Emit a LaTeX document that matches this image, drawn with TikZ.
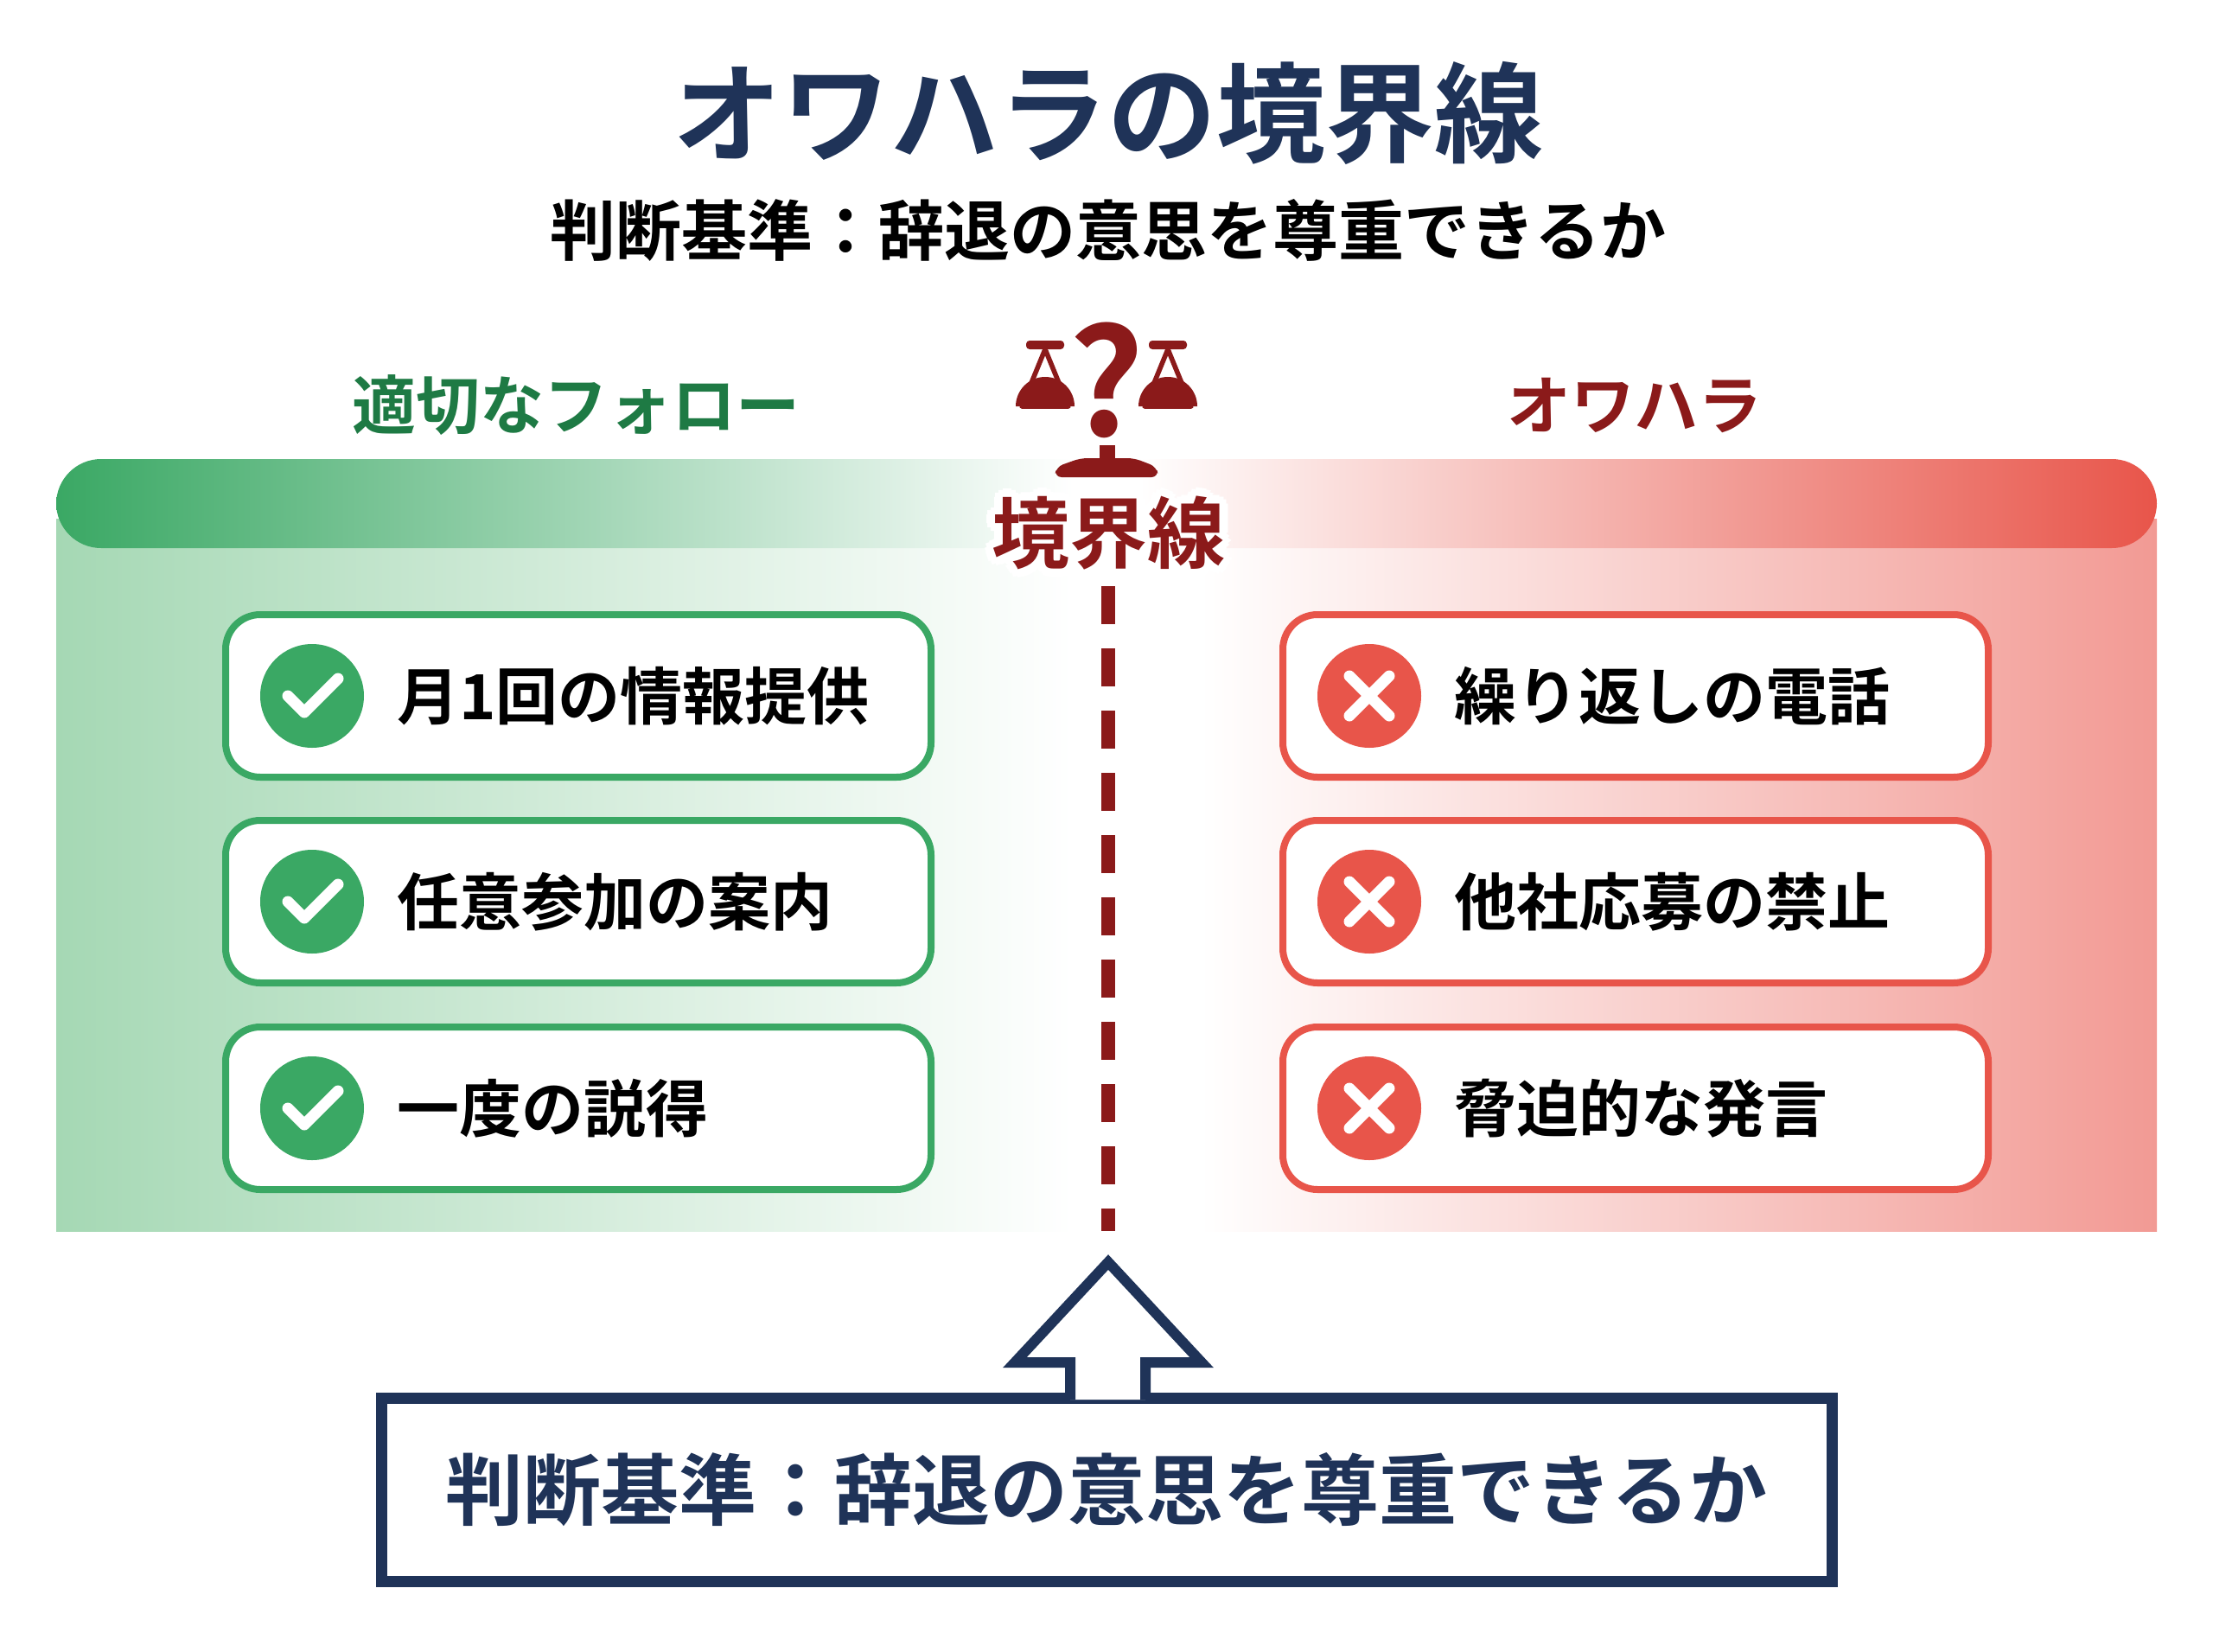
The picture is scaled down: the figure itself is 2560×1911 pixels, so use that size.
\documentclass[tikz,border=0pt]{standalone}
\usepackage{fontspec}
\usetikzlibrary{calc}
\setmainfont{Noto Sans CJK JP}[BoldFont={Noto Sans CJK JP Bold}]
\definecolor{navy}{HTML}{1F3358}
\definecolor{dgreen}{HTML}{1E7A44}
\definecolor{mgreen}{HTML}{3AA864}
\definecolor{lgreen}{HTML}{A5D8B4}
\definecolor{dred}{HTML}{8B1A1A}
\definecolor{mred}{HTML}{E8554A}
\definecolor{lred}{HTML}{F29A94}
\begin{document}
\begin{tikzpicture}[x=0.5pt,y=-0.5pt,
  okbox/.style={draw=mgreen,line width=4pt,fill=white,rounded corners=20pt,minimum width=408pt,minimum height=94pt},
  ngbox/.style={draw=mred,line width=4pt,fill=white,rounded corners=20pt,minimum width=408pt,minimum height=94pt},
  itemtxt/.style={font=\fontsize{36}{40}\selectfont\bfseries,text=black,anchor=west},
  okdot/.style={circle,fill=mgreen,minimum size=60pt,inner sep=0pt},
  ngdot/.style={circle,fill=mred,minimum size=60pt,inner sep=0pt},
  glyph/.style={draw=white,line width=6.5pt,line cap=round,line join=round}]
\useasboundingbox (0,0) rectangle (2560,1911);
\fill[white] (0,0) rectangle (2560,1911);
% panel
\shade[left color=lgreen,right color=white] (65,600) rectangle (1241,1424);
\fill[white] (1240,600) rectangle (1390,1424);
\shade[left color=white,right color=lred] (1388,600) rectangle (2495,1424);
% bar
\begin{scope}
\clip[rounded corners=26pt] (65,531) rectangle (2495,634);
\shade[left color=mgreen,right color=white] (65,531) rectangle (1241,634);
\fill[white] (1240,531) rectangle (1320,634);
\shade[left color=white,right color=mred] (1318,531) rectangle (2495,634);
\end{scope}
% titles
\node (title) at (1282,131) {\fontsize{63}{70}\selectfont\bfseries\color{navy}オワハラの境界線};
\node (sub) at (1282,266) {\fontsize{38}{44}\selectfont\bfseries\color{black}判断基準：辞退の意思を尊重できるか};
\node (lh) at (666,469) {\fontsize{37}{42}\selectfont\bfseries\color{dgreen}適切なフォロー};
\node (rh) at (1891,469) {\fontsize{37}{42}\selectfont\bfseries\color{dred}オワハラ};
% scale icon
\begin{scope}[dred]
\node (q) at (1280,440) {\fontsize{85}{90}\selectfont\bfseries ?};
\foreach \cx in {1209,1351}{
  \fill[rounded corners=2pt] (\cx-22,394) rectangle (\cx+22,404);
  \draw[line width=2.8pt,line join=round] (\cx,404) -- (\cx-27,470) -- (\cx+27,470) -- cycle;
  \fill (\cx-34,470) arc[start angle=180,end angle=360,x radius=34,y radius=34] -- cycle;
}
\fill (1272,515) rectangle (1290,532);
\fill[rounded corners=4pt] (1220,552) -- (1222,540) -- (1250,530) -- (1312,530) -- (1338,540) -- (1340,552) -- cycle;
\end{scope}
% dashed line
\coordinate (dtop) at (1282,678);
\coordinate (dbot) at (1282,1424);
\draw[dred,line width=8pt,dash pattern=on 22pt off 14pt] (dtop) -- (dbot);
% center label with halo
\foreach \a in {0,30,...,330}{
  \node[text=white] at ($(1282,617)+(\a:5pt)$) {\fontsize{45}{50}\selectfont\bfseries 境界線};
}
\node[text=dred] (bl) at (1282,617) {\fontsize{45}{50}\selectfont\bfseries 境界線};
% left boxes
\foreach \y/\t [count=\i] in {805/月1回の情報提供,1043/任意参加の案内,1282/一度の説得}{
  \node[okbox] (ok\i) at (669,\y) {};
  \node[okdot] (okd\i) at (361,\y) {};
  \draw[glyph] ($(okd\i)+(-28,0)$) -- ($(okd\i)+(-9,19)$) -- ($(okd\i)+(30,-20)$);
  \node[itemtxt] at (452,\y) {\t};
}
\foreach \y/\t [count=\i] in {805/繰り返しの電話,1043/他社応募の禁止,1282/脅迫的な発言}{
  \node[ngbox] (ng\i) at (1892,\y) {};
  \node[ngdot] (ngd\i) at (1584,\y) {};
  \draw[glyph] ($(ngd\i)+(-23,-23)$) -- ($(ngd\i)+(23,23)$);
  \draw[glyph] ($(ngd\i)+(-23,23)$) -- ($(ngd\i)+(23,-23)$);
  \node[itemtxt] at (1675,\y) {\t};
}
% bottom box
\node[draw=navy,line width=6.5pt,fill=white,minimum width=839pt,minimum height=106pt] (bottom) at (1280,1723) {\fontsize{45}{50}\selectfont\bfseries\color{navy}判断基準：辞退の意思を尊重できるか};
% up arrow
\draw[navy,line width=6pt,line join=miter,fill=white] (1238,1619) -- (1238,1576) -- (1174,1576) -- (1282,1460) -- (1390,1576) -- (1325,1576) -- (1325,1619);
\end{tikzpicture}
\end{document}
